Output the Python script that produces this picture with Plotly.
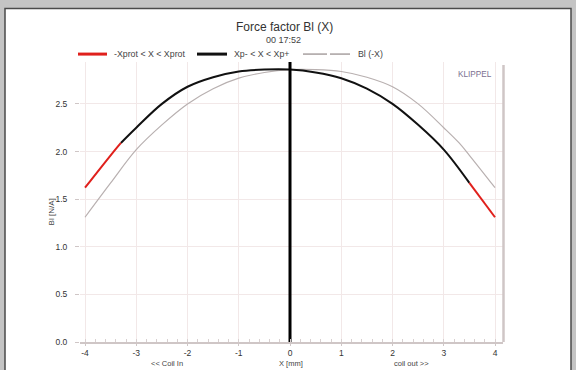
import plotly.graph_objects as go

x_vals = [-4, -3.5, -3.3, -3, -2.5, -2, -1.5, -1, -0.5, 0, 0.5, 1, 1.5, 2, 2.5, 3, 3.5, 4]
bl_vals = [1.62, 1.96, 2.09, 2.25, 2.50, 2.68, 2.78, 2.84, 2.86, 2.86, 2.83, 2.77, 2.66, 2.50, 2.28, 2.02, 1.67, 1.31]
xprot_lo, xprot_hi = -3.3, 3.5
x_ticks = [-4, -3, -2, -1, 0, 1, 2, 3, 4]
y_ticks = [0.0, 0.5, 1.0, 1.5, 2.0, 2.5]

FONT = "Liberation Sans, Arial, sans-serif"

# mirrored curve Bl(-X)
mx = [-v for v in x_vals][::-1]
mb = bl_vals[::-1]

red1 = [(x, b) for x, b in zip(x_vals, bl_vals) if x <= xprot_lo]
blk = [(x, b) for x, b in zip(x_vals, bl_vals) if xprot_lo <= x <= xprot_hi]
red2 = [(x, b) for x, b in zip(x_vals, bl_vals) if x >= xprot_hi]

fig = go.Figure()
fig.add_trace(go.Scatter(x=mx, y=mb, mode="lines", line=dict(color="#b8b0b0", width=1.2, shape="spline"),
                         showlegend=False, hoverinfo="skip"))
fig.add_trace(go.Scatter(x=[p[0] for p in blk], y=[p[1] for p in blk], mode="lines",
                         line=dict(color="#111111", width=2, shape="spline"), showlegend=False))
for seg in (red1, red2):
    fig.add_trace(go.Scatter(x=[p[0] for p in seg], y=[p[1] for p in seg], mode="lines",
                             line=dict(color="#e0201c", width=2, shape="spline"), showlegend=False))
# vertical line at X=0
fig.add_trace(go.Scatter(x=[0, 0], y=[0, 2.94], mode="lines", line=dict(color="#000000", width=3),
                         showlegend=False, cliponaxis=False))

def px2x(p):
    return (p - 80) / 423.0
def py2y(p):
    return (345 - p) / 283.0

shapes = []
# white panel
shapes.append(dict(type="rect", xref="paper", yref="paper", x0=px2x(5), x1=px2x(571), y0=-0.2, y1=py2y(8),
                   fillcolor="white", line=dict(color="#4a4a4a", width=1.5), layer="below"))
# right border
shapes.append(dict(type="line", xref="paper", yref="paper", x0=px2x(503.5), x1=px2x(503.5), y0=0, y1=py2y(65),
                   line=dict(color="#cfc6c6", width=2.5)))
ly = py2y(54)
shapes.append(dict(type="line", xref="paper", yref="paper", x0=px2x(78), x1=px2x(107), y0=ly, y1=ly,
                   line=dict(color="#e0201c", width=3)))
shapes.append(dict(type="line", xref="paper", yref="paper", x0=px2x(197), x1=px2x(227), y0=ly, y1=ly,
                   line=dict(color="#111111", width=3)))
shapes.append(dict(type="line", xref="paper", yref="paper", x0=px2x(303), x1=px2x(327), y0=ly, y1=ly,
                   line=dict(color="#a8a0a0", width=1.5)))
shapes.append(dict(type="line", xref="paper", yref="paper", x0=px2x(330), x1=px2x(350), y0=ly, y1=ly,
                   line=dict(color="#a8a0a0", width=1.5)))

ann = []
def txt(t, px, py, size, color="#333333", xanchor="center", **kw):
    ann.append(dict(text=t, xref="paper", yref="paper", x=px2x(px), y=py2y(py), showarrow=False,
                    xanchor=xanchor, yanchor="middle", font=dict(family=FONT, size=size, color=color), **kw))

txt("Force factor Bl (X)", 284, 27, 12, "#333333")
txt("00 17:52", 283, 40, 9, "#444444")
txt("-Xprot &lt; X &lt; Xprot", 112, 54, 8.8, "#444444", xanchor="left")
txt("Xp- &lt; X &lt; Xp+", 232, 54, 8.8, "#444444", xanchor="left")
txt("Bl (-X)", 356, 54, 8.8, "#444444", xanchor="left")
txt("KLIPPEL", 475, 75, 8.2, "#7a7090")
txt("&lt;&lt; Coil In", 167, 367, 7.5, "#444444")
txt("X [mm]", 291, 367, 7.5, "#444444")
txt("coil out &gt;&gt;", 411, 367, 7.5, "#444444")
txt("Bl [N/A]", 51, 214, 8, "#444444", textangle=-90)

fig.update_layout(
    width=576, height=370,
    margin=dict(l=80, r=73, t=62, b=25),
    paper_bgcolor="#c4c4c4", plot_bgcolor="white",
    shapes=shapes, annotations=ann, showlegend=False,
    font=dict(family=FONT, size=8.5, color="#333333"),
)
fig.update_xaxes(range=[-4.098, 4.156], tickvals=x_ticks, ticktext=[str(v) for v in x_ticks],
                 showgrid=True, gridcolor="#f2e8e8", gridwidth=1, zeroline=False,
                 showline=True, linecolor="#cfc6c6", linewidth=2,
                 ticks="outside", ticklen=2, tickcolor="#cfc6c6",
                 minor=dict(dtick=0.2, ticks="inside", ticklen=3, tickcolor="#d8d0d0", showgrid=False),
                 tickfont=dict(family=FONT, size=8.5, color="#333333"))
fig.update_yaxes(range=[0, 2.94], tickvals=y_ticks, ticktext=[f"{v:.1f}" for v in y_ticks],
                 showgrid=True, gridcolor="#f2e8e8", gridwidth=1, zeroline=False,
                 showline=False, ticks="outside", ticklen=4, tickcolor="#cfc6c6",
                 ticklabelstandoff=6,
                 tickfont=dict(family=FONT, size=8.5, color="#333333"))

fig.write_html("out.html")
